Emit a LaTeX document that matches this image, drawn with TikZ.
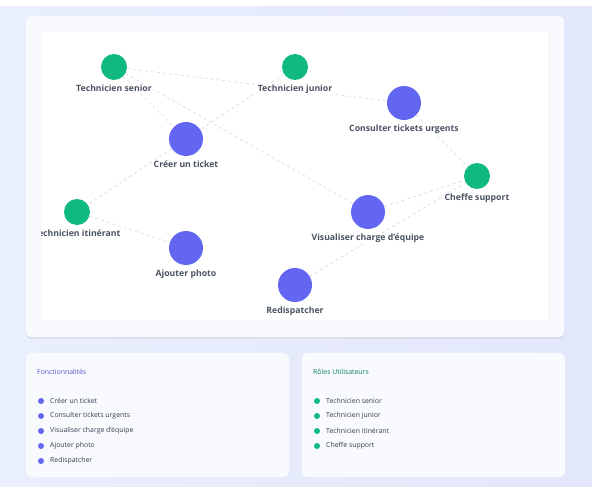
\documentclass[tikz,border=0pt]{standalone}
\usepackage{fontspec}
\setmainfont{Open Sans}
\usetikzlibrary{positioning,shadows}

\definecolor{featc}{HTML}{6366F1}
\definecolor{rolec}{HTML}{10B981}
\definecolor{linkc}{HTML}{D9DCE1}
\definecolor{txtc}{HTML}{374151}
\definecolor{cardc}{HTML}{F8FAFE}
\definecolor{bgl}{HTML}{E9EFFC}
\definecolor{bgr}{HTML}{E3E7FB}

\begin{document}
\begin{tikzpicture}[x=1pt, y=-1pt,
  feat/.style={circle, fill=featc, minimum size=34pt, inner sep=0pt},
  role/.style={circle, fill=rolec, minimum size=26pt, inner sep=0pt},
  tag/.style={fill=white, inner sep=1pt, text=txtc!90, font=\fontsize{8.7}{10}\selectfont\bfseries},
  link/.style={draw=linkc, line width=0.7pt, dash pattern=on 3pt off 3pt},
  card/.style={fill=cardc, rounded corners=5pt},
  dot/.style={circle, minimum size=6pt, inner sep=0pt},
  item/.style={anchor=west, inner sep=0pt, text=txtc, font=\fontsize{6.9}{8}\selectfont},
  node distance=3.5pt]
  \useasboundingbox (0,0) rectangle (592,494);
  \fill[white] (0,0) rectangle (592,494);
  \shade[left color=bgl, right color=bgr] (0,7) rectangle (592,486);

  % graph card
  \path[card, drop shadow={opacity=0.12, shadow xshift=0pt, shadow yshift=-2pt}] (26,16) rectangle (564,337);
  \draw[fill=white, draw=gray!20, rounded corners=3pt] (41,31) rectangle (549,321);

  \begin{scope}
  \clip (41,31) rectangle (549,321);
  \node[role] (senior) at (114,67) {};
  \node[role] (junior) at (295,67) {};
  \node[feat] (urgent) at (404,103) {};
  \node[feat] (create) at (186,139) {};
  \node[role] (chief) at (477,176) {};
  \node[role] (mobile) at (77,212) {};
  \node[feat] (load) at (368,212) {};
  \node[feat] (photo) at (186,248) {};
  \node[feat] (redisp) at (295,285) {};

  \draw[link] (senior) -- (urgent);
  \draw[link] (senior) -- (create);
  \draw[link] (senior) -- (load);
  \draw[link] (junior) -- (create);
  \draw[link] (urgent) -- (chief);
  \draw[link] (create) -- (mobile);
  \draw[link] (mobile) -- (photo);
  \draw[link] (load) -- (chief);
  \draw[link] (redisp) -- (chief);

  \node[tag, below=of senior] (seniorlbl) {Technicien senior};
  \node[tag, below=of junior] (juniorlbl) {Technicien junior};
  \node[tag, below=of urgent] (urgentlbl) {Consulter tickets urgents};
  \node[tag, below=of create] (createlbl) {Créer un ticket};
  \node[tag, below=of chief] (chieflbl) {Cheffe support};
  \node[tag, below=of mobile] (mobilelbl) {Technicien itinérant};
  \node[tag, below=of load] (loadlbl) {Visualiser charge d'équipe};
  \node[tag, below=of photo] (photolbl) {Ajouter photo};
  \node[tag, below=of redisp] (redisplbl) {Redispatcher};
  \end{scope}

  % legend cards
  \path[card] (26,353) rectangle (289,477);
  \path[card] (302,353) rectangle (565,477);
  \node[item, text=featc!85!black] (feattitle) at (37,372) {Fonctionnalités};
  \node[item, text=rolec!70!black] (roletitle) at (313,372) {Rôles Utilisateurs};
  \foreach \txt [count=\i] in {Créer un ticket, Consulter tickets urgents, Visualiser charge d'équipe, Ajouter photo, Redispatcher} {
    \node[dot, fill=featc] (fd\i) at (41,386+15*\i) {};
    \node[item] (fi\i) at (50,386+15*\i) {\txt};
  }
  \foreach \txt [count=\i] in {Technicien senior, Technicien junior, Technicien itinérant, Cheffe support} {
    \node[dot, fill=rolec] (rd\i) at (317,386+15*\i) {};
    \node[item] (ri\i) at (326,386+15*\i) {\txt};
  }
\end{tikzpicture}
\end{document}
